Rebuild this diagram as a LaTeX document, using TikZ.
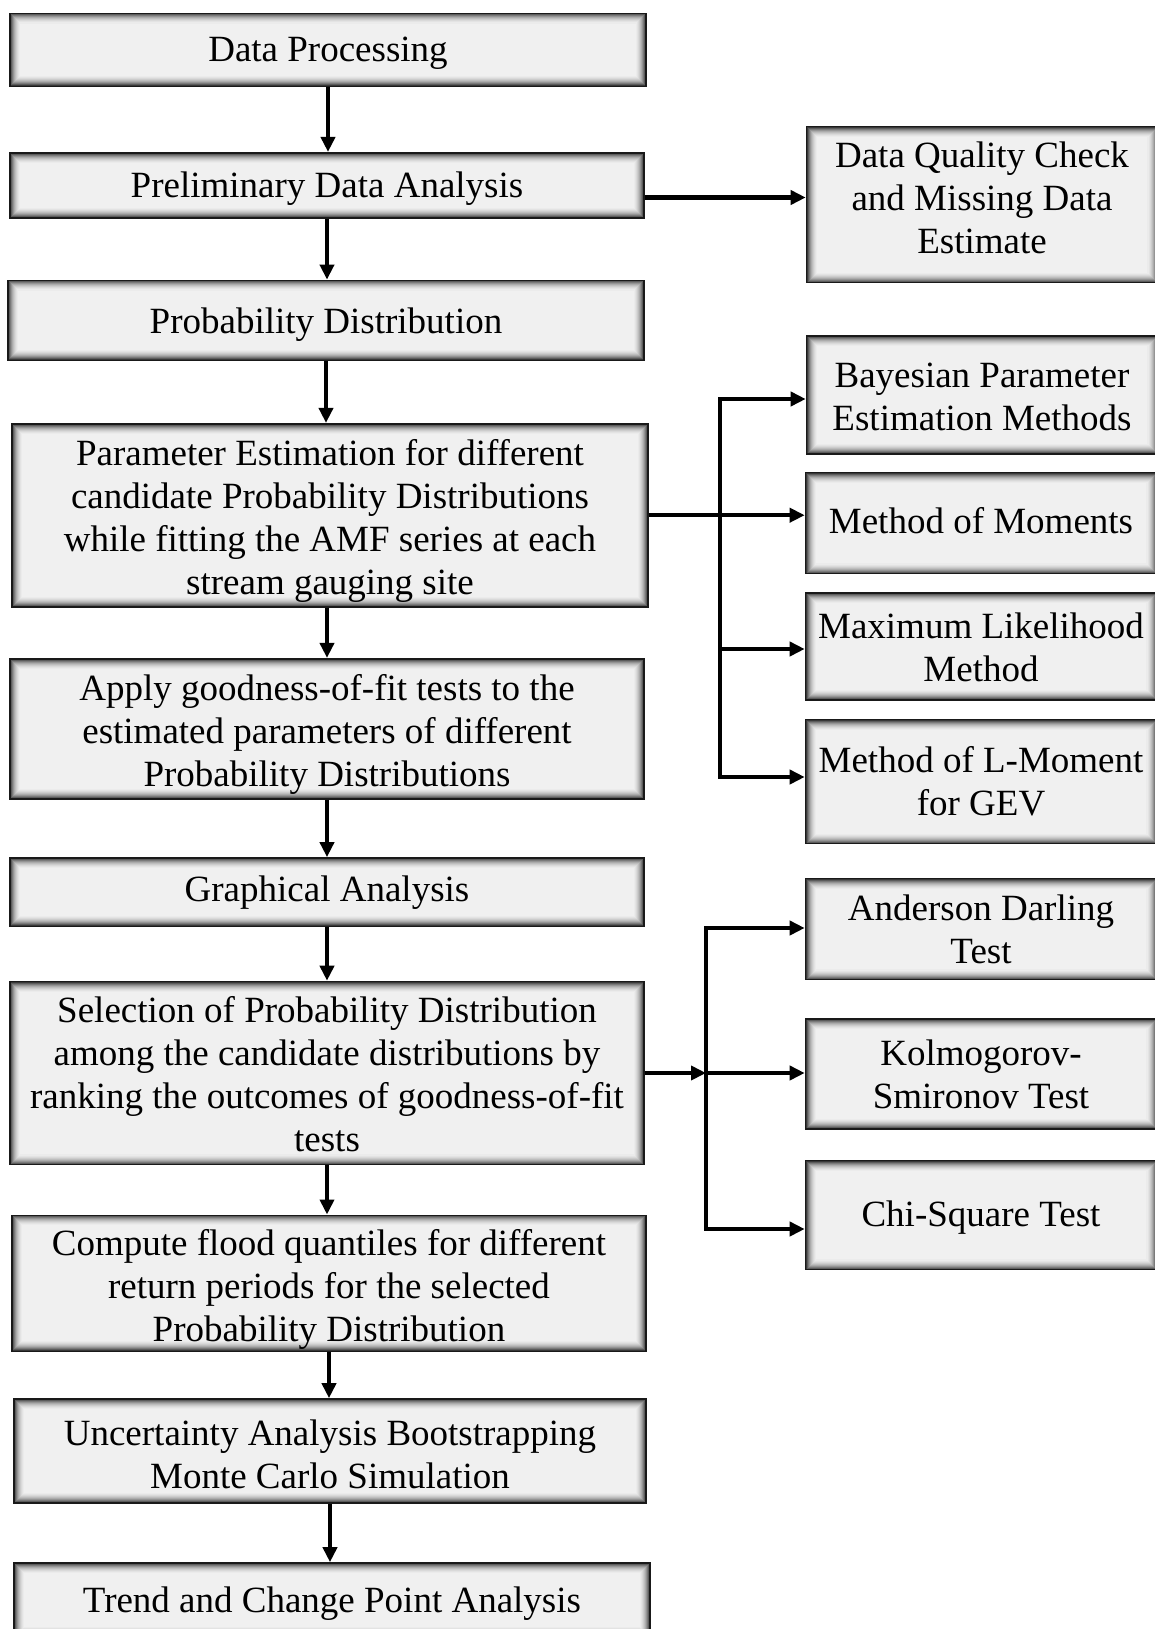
\documentclass[tikz,border=0pt]{standalone}
\usepackage{fontspec}
\setmainfont{Liberation Serif}
\usetikzlibrary{arrows.meta,calc}
\tikzset{
  glow/.style={path picture={
    \foreach \i/\c in {0/78,1/64,2/52,3/42,4/33,5/26,6/20,7/15,8/11,9/8}{
      \draw[black!\c, line width=1.1pt]
        ([shift={(\i*1pt+0.55pt,\i*1pt+0.55pt)}]path picture bounding box.south west) rectangle
        ([shift={(-\i*1pt-0.55pt,-\i*1pt-0.55pt)}]path picture bounding box.north east);
    }}},
  txt/.style={inner sep=0pt, align=center, font=\fontsize{37}{43}\selectfont},
  box/.style={draw=black!90, line width=1.6pt, fill=black!6, glow, inner sep=0pt},
  lbox/.style={box},
  rbox/.style={box, minimum width=351pt},
  conn/.style={line width=4.5pt, draw=black, line join=miter},
  arr/.style={conn, -{Triangle[length=15pt,width=14pt]}},
}
\begin{document}
\begin{tikzpicture}[x=1pt,y=-1pt]
\fill[white] (0,0) rectangle (1155,1629);
\useasboundingbox (0,0) rectangle (1155,1629);

% left column
\node[lbox, minimum width=636pt, minimum height=73pt,
  label={[txt,yshift=-3pt]center:{Data Processing}}] (DP) at (328,50) {};
\node[lbox, minimum width=634pt, minimum height=65.5pt,
  label={[txt,yshift=-3pt]center:{Preliminary Data Analysis}}] (PDA) at (327,185.5) {};
\node[lbox, minimum width=636pt, minimum height=80pt,
  label={[txt,yshift=-4pt]center:{Probability Distribution}}] (PD) at (326,320.4) {};
\node[lbox, minimum width=636pt, minimum height=183pt,
  label={[txt,yshift=-6pt]center:{Parameter Estimation for different\\candidate Probability Distributions\\while fitting the AMF series at each\\stream gauging site}}] (PE) at (330,515.2) {};
\node[lbox, minimum width=634pt, minimum height=140pt,
  label={[txt,yshift=-6pt]center:{Apply goodness-of-fit tests to the\\estimated parameters of different\\Probability Distributions}}] (GOF) at (327,728.7) {};
\node[lbox, minimum width=634pt, minimum height=68.5pt,
  label={[txt]center:{Graphical Analysis}}] (GA) at (327,892.2) {};
\node[lbox, minimum width=634pt, minimum height=183pt,
  label={[txt,yshift=-1pt]center:{Selection of Probability Distribution\\among the candidate distributions by\\ranking the outcomes of goodness-of-fit\\tests}}] (SEL) at (327,1073) {};
\node[lbox, minimum width=634pt, minimum height=136pt,
  label={[txt,yshift=-6pt]center:{Compute flood quantiles for different\\return periods for the selected\\Probability Distribution}}] (CF) at (329,1283.3) {};
\node[lbox, minimum width=632pt, minimum height=104pt,
  label={[txt,yshift=-3pt]center:{Uncertainty Analysis Bootstrapping\\Monte Carlo Simulation}}] (UA) at (330,1451) {};
\node[lbox, minimum width=636pt, minimum height=74pt,
  label={[txt,yshift=-4pt]center:{Trend and Change Point Analysis}}] (TR) at (332,1600) {};

% right column
\node[rbox, minimum height=156pt,
  label={[txt,yshift=7pt]center:{Data Quality Check\\and Missing Data\\Estimate}}] (DQ) at (982,204.6) {};
\node[rbox, minimum height=118pt,
  label={[txt,yshift=-2pt]center:{Bayesian Parameter\\Estimation Methods}}] (BAY) at (982,394.7) {};
\node[rbox, minimum height=101pt,
  label={[txt,yshift=2pt]center:{Method of Moments}}] (MOM) at (981,523) {};
\node[rbox, minimum height=107pt,
  label={[txt,yshift=-1pt]center:{Maximum Likelihood\\Method}}] (ML) at (981,646.6) {};
\node[rbox, minimum height=124pt,
  label={[txt]center:{Method of L-Moment\\for GEV}}] (LM) at (981,781.6) {};
\node[rbox, minimum height=101pt,
  label={[txt]center:{Anderson Darling\\Test}}] (AD) at (981,929) {};
\node[rbox, minimum height=110pt,
  label={[txt]center:{Kolmogorov-\\Smironov Test}}] (KS) at (981,1074) {};
\node[rbox, minimum height=109pt,
  label={[txt,yshift=-3pt]center:{Chi-Square Test}}] (CHI) at (981,1215) {};

% main vertical flow
\draw[arr] (DP.south)  -- (DP.south  |- PDA.north);
\draw[arr] (PDA.south) -- (PDA.south |- PD.north);
\draw[arr] (PD.south)  -- (PD.south  |- PE.north);
\draw[arr] (PE.south -| GOF.north) -- (GOF.north);
\draw[arr] (GOF.south) -- (GOF.south |- GA.north);
\draw[arr] (GA.south)  -- (GA.south  |- SEL.north);
\draw[arr] (SEL.south) -- (SEL.south |- CF.north);
\draw[arr] (CF.south)  -- (CF.south  |- UA.north);
\draw[arr] (UA.south)  -- (UA.south  |- TR.north);

% preliminary -> data quality
\draw[arr] ([yshift=-12pt]PDA.east) -- ([yshift=-12pt]PDA.east -| DQ.west);

% parameter estimation bus
\coordinate (bA) at (720,399);
\coordinate (bM) at (720,649);
\coordinate (bB) at (720,777);
\draw[arr] (PE.east) -- (PE.east -| MOM.west);
\draw[arr] (bM) -- (bA) -- (bA -| BAY.west);
\draw[arr] (bM) -- (bM -| ML.west);
\draw[arr] (bM) -- (bB) -- (bB -| LM.west);

% selection bus
\coordinate (sK) at (706,1073);
\coordinate (sA) at (706,928);
\coordinate (sB) at (706,1229);
\draw[arr] (SEL.east) -- (sK);
\draw[arr] (sK) -- (sK -| KS.west);
\draw[arr] (sK) -- (sA) -- (sA -| AD.west);
\draw[arr] (sK) -- (sB) -- (sB -| CHI.west);
\end{tikzpicture}
\end{document}
